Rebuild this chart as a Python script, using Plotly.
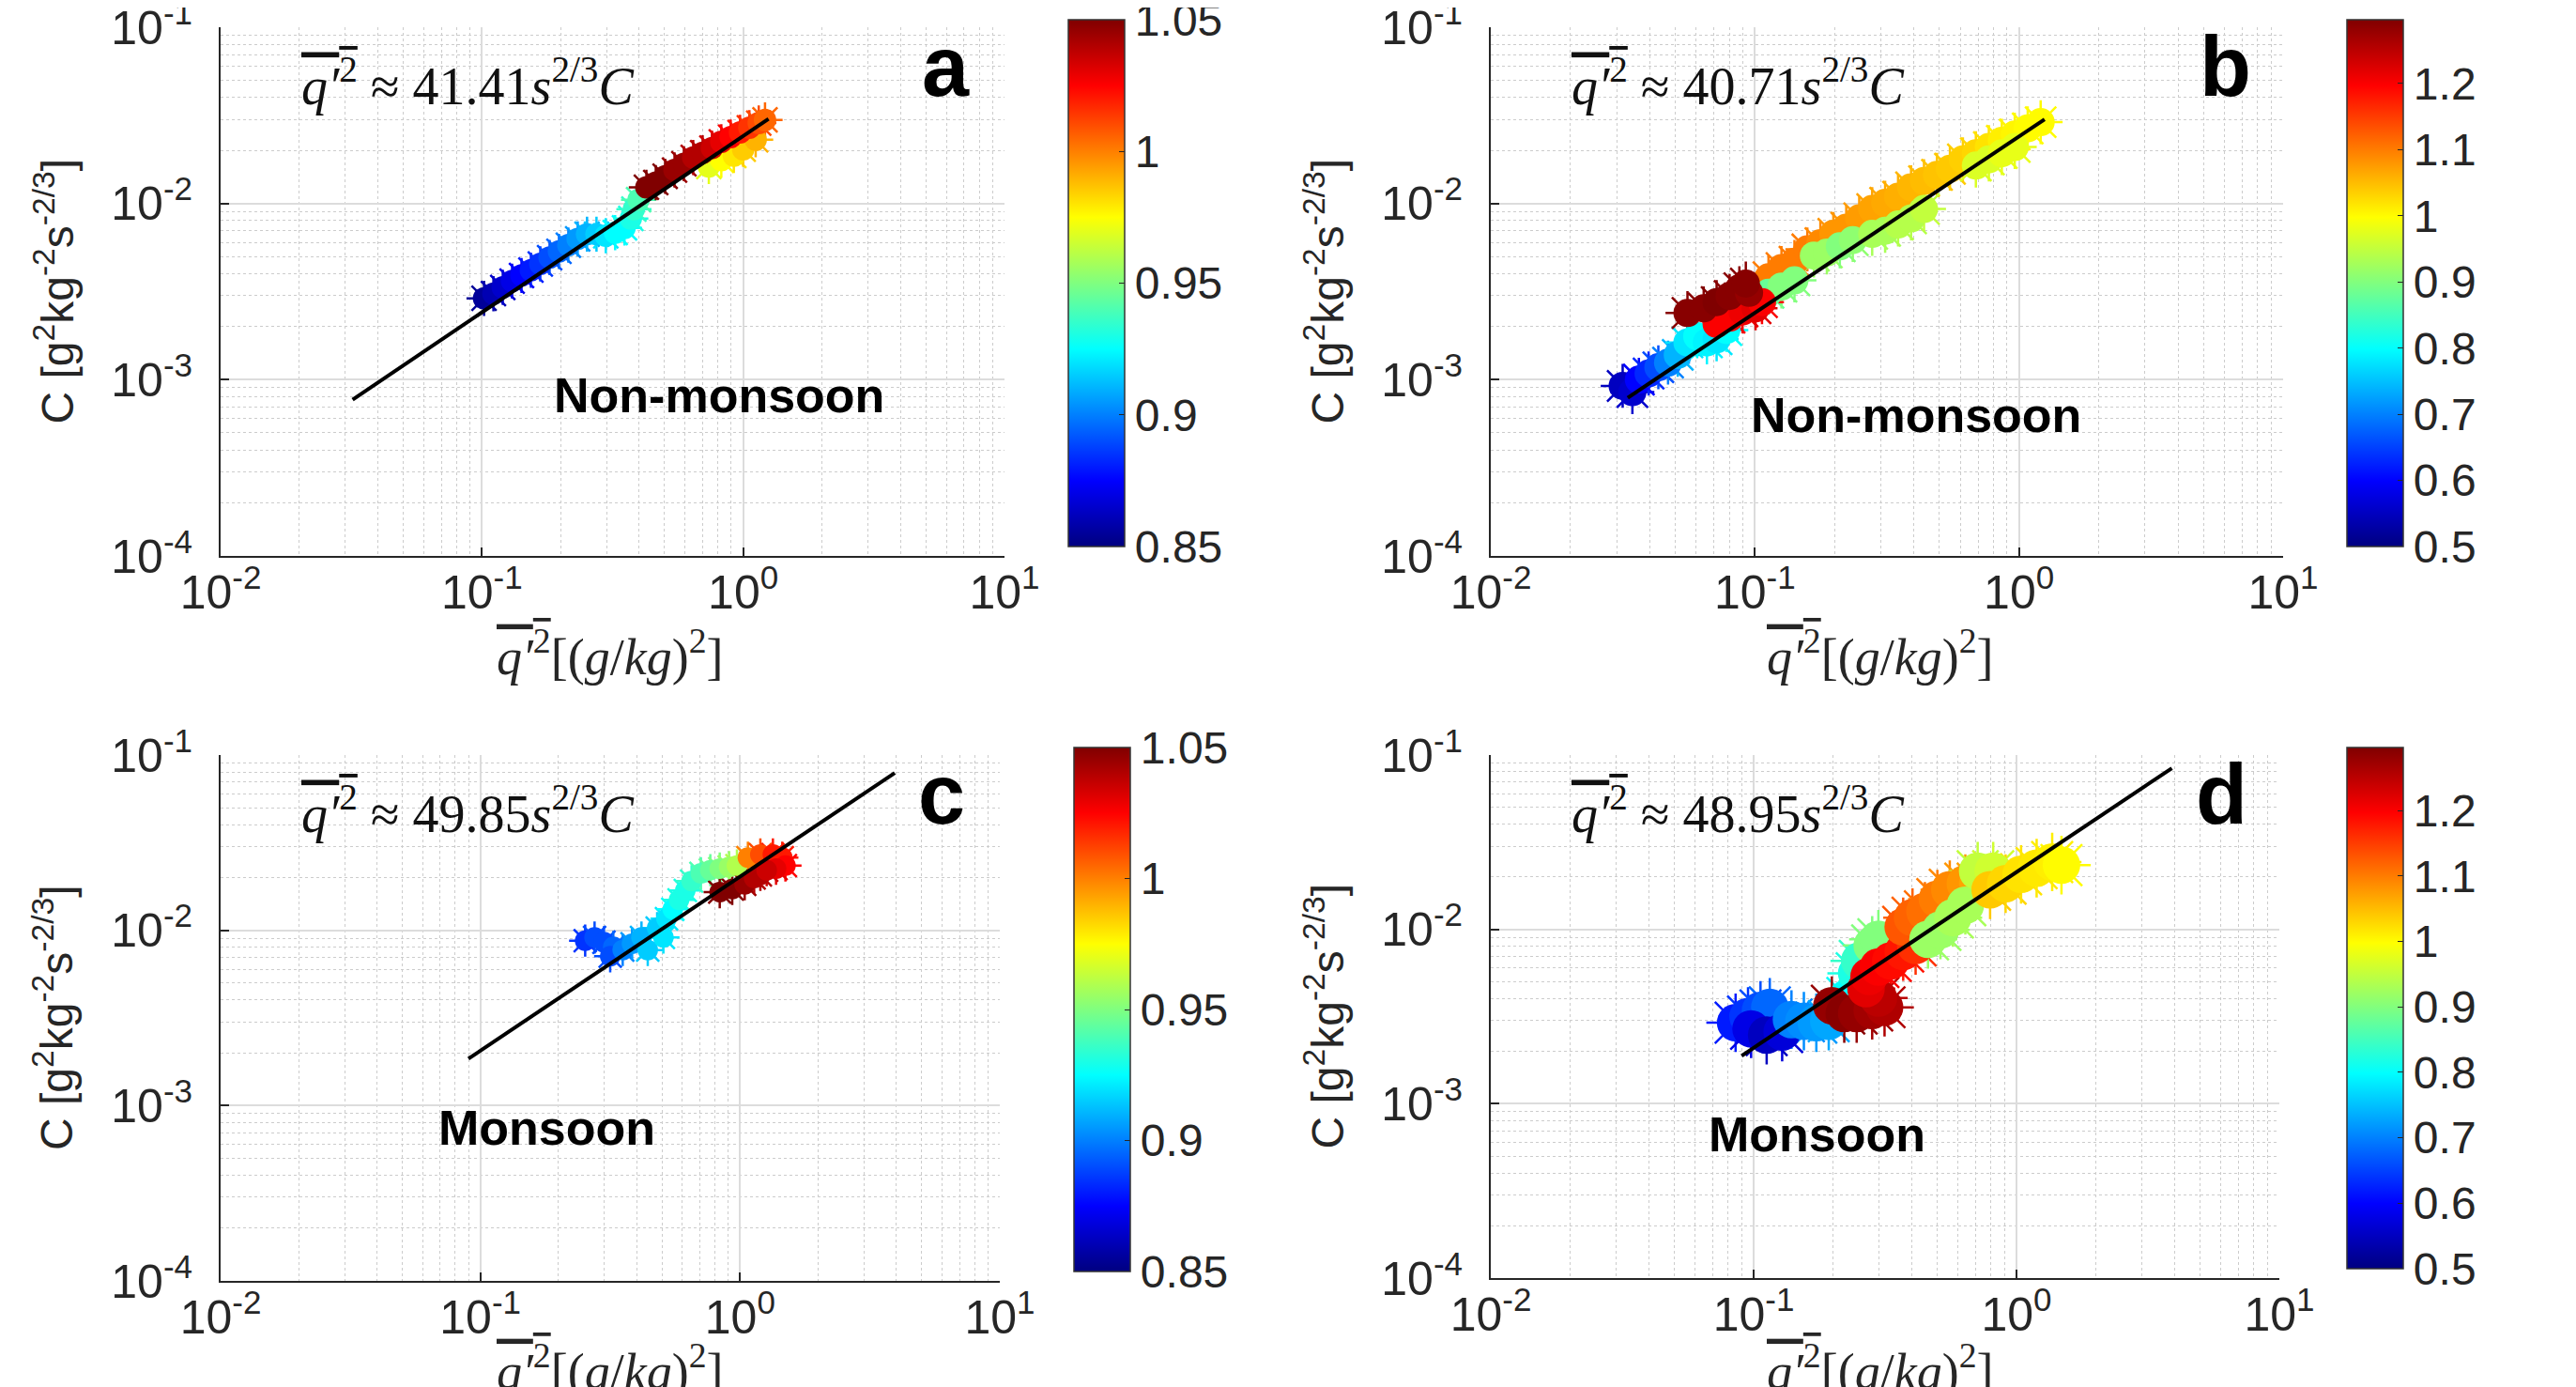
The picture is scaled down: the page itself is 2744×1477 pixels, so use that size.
import plotly.graph_objects as go

W, H = 2744, 1477

# ---------------- data ----------------
# Panel a  (Non-monsoon, colour range 0.85-1.05)
a_q = [0.1019, 0.1107, 0.1202, 0.1305, 0.1418, 0.1540, 0.1673, 0.1816, 0.1972, 0.2142,
       0.2326, 0.2526, 0.2745, 0.2980, 0.3236, 0.3514, 0.3713, 0.3817, 0.3978,
       0.7388, 0.8246, 0.9207, 0.9998, 1.116,
       0.4261, 0.4628, 0.5027, 0.5460, 0.5929, 0.6437, 0.6994, 0.7592, 0.8246, 0.8956,
       0.9727, 1.056, 1.147, 1.212]
a_C = [2.895e-3, 3.078e-3, 3.341e-3, 3.625e-3, 3.903e-3, 4.182e-3, 4.539e-3, 4.928e-3, 5.346e-3, 5.801e-3,
       6.296e-3, 6.694e-3, 6.694e-3, 6.559e-3, 6.834e-3, 7.265e-3, 8.213e-3, 9.285e-3, 1.050e-2,
       1.62e-2, 1.76e-2, 1.87e-2, 2.03e-2, 2.30e-2,
       1.236e-2, 1.314e-2, 1.426e-2, 1.548e-2, 1.680e-2, 1.823e-2, 1.939e-2, 2.061e-2, 2.236e-2, 2.378e-2,
       2.528e-2, 2.689e-2, 2.859e-2, 2.978e-2]
a_s = [0.855, 0.86, 0.865, 0.87, 0.875, 0.88, 0.885, 0.89, 0.895, 0.90,
       0.905, 0.91, 0.915, 0.92, 0.925, 0.925, 0.93, 0.935, 0.94,
       0.97, 0.975, 0.98, 0.985, 0.99,
       1.05, 1.05, 1.05, 1.045, 1.045, 1.04, 1.04, 1.035, 1.03, 1.025,
       1.02, 1.015, 1.01, 1.005]
a_line_q = [0.032, 1.25]
a_line_C = [7.7e-4, 3.02e-2]

# Panel b  (Non-monsoon, colour range 0.5-1.3)
b_q = [0.03158, 0.03437, 0.03637, 0.03959, 0.04310, 0.04691, 0.05105, 0.05556, 0.06047, 0.06582,
       0.07164, 0.07798,
       0.1126, 0.1261, 0.1412, 0.1580, 0.1770, 0.1982, 0.2218, 0.2484, 0.2781, 0.3113,
       0.3485, 0.3903, 0.4369, 0.4892, 0.5477, 0.6132, 0.6867, 0.7690, 0.8610, 0.9638,
       1.079, 1.208,
       0.1126, 0.1261, 0.1412, 0.1673, 0.1873, 0.2097, 0.2348, 0.2781, 0.3113, 0.3485,
       0.3903, 0.4369, 0.6867, 0.7690, 0.8610, 0.9638,
       0.07164, 0.08022, 0.08980, 0.1006, 0.1064,
       0.05556, 0.06400, 0.07164, 0.08022, 0.08734, 0.09504, 0.09240]
b_C = [9.22e-4, 8.50e-4, 1.000e-3, 1.084e-3, 1.176e-3, 1.250e-3, 1.383e-3, 1.627e-3, 1.764e-3, 1.627e-3,
       1.694e-3, 1.913e-3,
       3.811e-3, 4.303e-3, 4.667e-3, 5.487e-3, 5.951e-3, 6.722e-3, 7.289e-3, 8.230e-3, 9.297e-3, 1.008e-2,
       1.093e-2, 1.235e-2, 1.339e-2, 1.452e-2, 1.574e-2, 1.778e-2, 1.928e-2, 2.090e-2, 2.267e-2, 2.459e-2,
       2.667e-2, 2.892e-2,
       3.112e-3, 3.374e-3, 3.659e-3, 5.060e-3, 5.269e-3, 5.715e-3, 6.196e-3, 6.722e-3, 7.000e-3, 7.594e-3,
       8.230e-3, 9.297e-3, 1.640e-2, 1.778e-2, 1.928e-2, 2.090e-2,
       2.074e-3, 2.249e-3, 2.439e-3, 2.540e-3, 2.755e-3,
       2.390e-3, 2.540e-3, 2.755e-3, 2.987e-3, 3.306e-3, 3.112e-3, 3.513e-3]
b_s = [0.55, 0.56, 0.60, 0.63, 0.66, 0.70, 0.74, 0.78, 0.80, 0.79,
       0.78, 0.80,
       1.10, 1.10, 1.10, 1.10, 1.09, 1.08, 1.08, 1.075, 1.07, 1.065,
       1.06, 1.055, 1.05, 1.045, 1.04, 1.035, 1.03, 1.02, 1.01, 1.005,
       1.00, 1.00,
       0.88, 0.90, 0.90, 0.92, 0.92, 0.90, 0.91, 0.93, 0.93, 0.94,
       0.94, 0.95, 0.97, 0.97, 0.98, 0.98,
       1.20, 1.20, 1.21, 1.22, 1.20,
       1.29, 1.29, 1.30, 1.29, 1.29, 1.28, 1.29]
b_line_q = [0.033, 1.25]
b_line_C = [7.9e-4, 3.0e-2]

# Panel c  (Monsoon, colour range 0.85-1.05)
c_q = [0.2533, 0.2753, 0.2991, 0.3251, 0.3162, 0.3533, 0.3839, 0.4173, 0.4411, 0.4795,
       0.5068, 0.5210, 0.5508, 0.5822, 0.6154, 0.6506, 0.7069, 0.7683, 0.8350, 0.9074,
       0.9727, 1.072, 1.197, 1.338, 1.454, 1.495, 1.376,
       0.8350, 0.9330, 1.042, 1.133, 1.197, 1.266]
c_C = [8.73e-3, 9.10e-3, 8.55e-3, 8.04e-3, 7.11e-3, 7.72e-3, 8.38e-3, 9.10e-3, 7.72e-3, 1.029e-2,
       9.10e-3, 1.164e-2, 1.317e-2, 1.490e-2, 1.686e-2, 1.907e-2, 2.113e-2, 2.203e-2, 2.248e-2, 2.295e-2,
       2.342e-2, 2.596e-2, 2.705e-2, 2.705e-2, 2.596e-2, 2.342e-2, 2.248e-2,
       1.651e-2, 1.720e-2, 1.830e-2, 1.987e-2, 2.071e-2, 2.203e-2]
c_s = [0.885, 0.89, 0.89, 0.895, 0.89, 0.90, 0.905, 0.91, 0.915, 0.915,
       0.92, 0.92, 0.925, 0.93, 0.93, 0.935, 0.94, 0.945, 0.95, 0.955,
       0.96, 1.00, 1.01, 1.02, 1.02, 1.025, 1.03,
       1.05, 1.05, 1.045, 1.04, 1.04, 1.035]
c_line_q = [0.09, 3.94]
c_line_C = [1.85e-3, 7.9e-2]

# Panel d  (Monsoon, colour range 0.5-1.3)
d_q = [0.0854, 0.0952, 0.1062, 0.1152, 0.0978, 0.1121, 0.1284, 0.1393, 0.1553, 0.1732,
       0.1931, 0.2273, 0.2466, 0.2533, 0.2825, 0.2983,
       0.1984, 0.2212, 0.2466, 0.2825, 0.3148, 0.2983,
       0.2676, 0.2749, 0.2983, 0.3324, 0.3707, 0.4133,
       0.3707, 0.4022, 0.4484, 0.5000, 0.5574, 0.6388, 0.7118,
       0.4607, 0.5137, 0.5728, 0.6388, 0.7118, 0.8155,
       0.7936, 0.9091, 1.041, 1.193, 1.367, 1.483]
d_C = [2.914e-3, 3.162e-3, 3.431e-3, 3.574e-3, 2.687e-3, 2.475e-3, 2.578e-3, 3.037e-3, 2.975e-3, 2.914e-3,
       2.975e-3, 4.040e-3, 5.603e-3, 6.594e-3, 8.088e-3, 8.775e-3,
       3.648e-3, 3.294e-3, 3.294e-3, 3.431e-3, 3.574e-3, 4.040e-3,
       4.567e-3, 5.375e-3, 6.077e-3, 6.594e-3, 7.455e-3, 8.088e-3,
       1.033e-2, 1.168e-2, 1.268e-2, 1.492e-2, 1.687e-2, 1.830e-2, 1.830e-2,
       8.775e-3, 9.920e-3, 1.168e-2, 1.375e-2, 2.155e-2, 2.155e-2,
       1.687e-2, 1.830e-2, 2.068e-2, 2.245e-2, 2.435e-2, 2.338e-2]
d_s = [0.62, 0.64, 0.66, 0.68, 0.58, 0.55, 0.57, 0.70, 0.71, 0.72,
       0.73, 0.80, 0.82, 0.84, 0.90, 0.90,
       1.28, 1.29, 1.28, 1.27, 1.26, 1.25,
       1.22, 1.21, 1.20, 1.19, 1.18, 1.16,
       1.13, 1.12, 1.11, 1.10, 1.09, 1.08, 1.07,
       0.92, 0.92, 0.93, 0.93, 0.95, 0.96,
       1.04, 1.03, 1.02, 1.015, 1.01, 1.00]
d_line_q = [0.09, 3.9]
d_line_C = [1.88e-3, 8.4e-2]

x_ticks = [0.01, 0.1, 1, 10]
x_ticktext = ["10<sup>-2</sup>", "10<sup>-1</sup>", "10<sup>0</sup>", "10<sup>1</sup>"]
y_ticks = [1e-4, 1e-3, 1e-2, 1e-1]
y_ticktext = ["10<sup>-4</sup>", "10<sup>-3</sup>", "10<sup>-2</sup>", "10<sup>-1</sup>"]
cbar_ab_ticks = [0.85, 0.9, 0.95, 1, 1.05]
cbar_ab_text = ["0.85", "0.9", "0.95", "1", "1.05"]
cbar_bd_ticks = [0.5, 0.6, 0.7, 0.8, 0.9, 1.0, 1.1, 1.2]
cbar_bd_text = ["0.5", "0.6", "0.7", "0.8", "0.9", "1", "1.1", "1.2"]

coeffs = ["41.41", "40.71", "49.85", "48.95"]
seasons = ["Non-monsoon", "Non-monsoon", "Monsoon", "Monsoon"]
letters = ["a", "b", "c", "d"]

# ---------------- styling ----------------
JET = [[0.0, "#000080"], [0.125, "#0000ff"], [0.375, "#00ffff"],
       [0.625, "#ffff00"], [0.875, "#ff0000"], [1.0, "#800000"]]
SANS = "Liberation Sans, Arial, sans-serif"
SERIF = "Liberation Serif, Times New Roman, serif"
TXT = "#262626"
TICKSZ = 50
CBSZ = 48


def px_x(p):
    return p / W


def px_y(p):
    return 1 - p / H


panels = [
    dict(q=a_q, C=a_C, s=a_s, lq=a_line_q, lC=a_line_C, size=24,
         dom_x=(227, 1062), dom_y=(21, 584), cb_x=1130, cmin=0.85, cmax=1.05,
         cbt=cbar_ab_ticks, cbtt=cbar_ab_text),
    dict(q=b_q, C=b_C, s=b_s, lq=b_line_q, lC=b_line_C, size=30,
         dom_x=(1580, 2424), dom_y=(21, 584), cb_x=2492, cmin=0.5, cmax=1.2965,
         cbt=cbar_bd_ticks, cbtt=cbar_bd_text),
    dict(q=c_q, C=c_C, s=c_s, lq=c_line_q, lC=c_line_C, size=22,
         dom_x=(227, 1057), dom_y=(796, 1356), cb_x=1136, cmin=0.85, cmax=1.05,
         cbt=cbar_ab_ticks, cbtt=cbar_ab_text),
    dict(q=d_q, C=d_C, s=d_s, lq=d_line_q, lC=d_line_C, size=40,
         dom_x=(1580, 2420), dom_y=(796, 1353), cb_x=2492, cmin=0.5, cmax=1.2965,
         cbt=cbar_bd_ticks, cbtt=cbar_bd_text),
]

fig = go.Figure()
layout = dict(width=W, height=H,
              margin=dict(l=0, r=0, t=0, b=0, autoexpand=False),
              paper_bgcolor="white", plot_bgcolor="white", showlegend=False)
annotations = []

for i, p in enumerate(panels):
    n = "" if i == 0 else str(i + 1)
    ca = "coloraxis" + n
    # spiky fringe (asterisk markers) underneath the filled core
    fig.add_trace(go.Scatter(
        x=p["q"], y=p["C"], mode="markers", xaxis="x" + n, yaxis="y" + n,
        marker=dict(color=p["s"], coloraxis=ca, size=p["size"] * 1.3,
                    symbol="asterisk-open", line=dict(width=2.5))))
    fig.add_trace(go.Scatter(
        x=p["q"], y=p["C"], mode="markers", xaxis="x" + n, yaxis="y" + n,
        marker=dict(color=p["s"], coloraxis=ca, size=p["size"], symbol="circle",
                    line=dict(width=0))))
    fig.add_trace(go.Scatter(
        x=p["lq"], y=p["lC"], mode="lines", xaxis="x" + n, yaxis="y" + n,
        line=dict(color="black", width=4)))

    x0, x1 = p["dom_x"]
    y0, y1 = p["dom_y"]
    common = dict(type="log", showline=True, linecolor="#262626", linewidth=2,
                  ticks="inside", ticklen=9, tickwidth=1.5, tickcolor="#262626",
                  showgrid=True, gridcolor="#dcdcdc", gridwidth=1.5,
                  tickfont=dict(family=SANS, size=TICKSZ, color=TXT),
                  ticklabeloverflow="allow",
                  zeroline=False, mirror=False)
    minor = dict(tickmode="array", showgrid=True, gridcolor="#cccccc",
                 griddash="dot", gridwidth=1.3, ticks="")
    layout["xaxis" + n] = dict(common, domain=[px_x(x0), px_x(x1)],
                               range=[-2, 1], tickvals=x_ticks, ticktext=x_ticktext,
                               ticklabelstandoff=-6, anchor="y" + n,
                               minor=dict(minor, tickvals=[m * 10 ** k for k in range(-2, 1) for m in range(2, 10)]))
    layout["yaxis" + n] = dict(common, domain=[px_y(y1), px_y(y0)],
                               range=[-4, -1], tickvals=y_ticks, ticktext=y_ticktext,
                               ticklabelstandoff=18, anchor="x" + n,
                               minor=dict(minor, tickvals=[m * 10 ** k for k in range(-4, -1) for m in range(2, 10)]))
    layout[ca] = dict(
        colorscale=JET, cmin=p["cmin"], cmax=p["cmax"],
        colorbar=dict(x=px_x(p["cb_x"]), xanchor="left", xref="paper",
                      y=px_y((y0 + y1) / 2 - 9), yanchor="middle", xpad=0, ypad=0,
                      len=(y1 - y0 - 2), lenmode="pixels", thickness=60, thicknessmode="pixels",
                      outlinewidth=1.5, outlinecolor="#333333",
                      tickvals=p["cbt"], ticktext=p["cbtt"], ticks="inside", ticklen=6,
                      tickcolor="#262626", ticklabeloverflow="allow",
                      tickfont=dict(family=SANS, size=CBSZ, color=TXT)))

    # formula
    annotations.append(dict(
        x=px_x(x0 + 84), y=px_y(y0 + 58), xref="paper", yref="paper",
        xanchor="left", yanchor="middle", showarrow=False,
        text='<span style="text-decoration:overline"><i>q′</i><sup>2</sup></span> ≈ '
             + coeffs[i] + '<i>s</i><sup>2/3</sup><i>C</i>',
        font=dict(family=SERIF, size=56, color="#111111")))
    # panel letter
    annotations.append(dict(
        x=px_x(x1 - 62), y=px_y(y0 + 42), xref="paper", yref="paper",
        xanchor="center", yanchor="middle", showarrow=False,
        text="<b>" + letters[i] + "</b>",
        font=dict(family=SANS, size=90, color="black")))
    # y title
    annotations.append(dict(
        x=px_x(x0 - 178), y=px_y((y0 + y1) / 2), xref="paper", yref="paper",
        xanchor="center", yanchor="middle", showarrow=False, textangle=-90,
        text="C [g<sup>2</sup>kg<sup>-2</sup>s<sup>-2/3</sup>]",
        font=dict(family=SANS, size=48, color=TXT)))
    # x title
    annotations.append(dict(
        x=px_x(x0 + 415), y=px_y(min(y1 + 104, 1448)), xref="paper", yref="paper",
        xanchor="center", yanchor="middle", showarrow=False,
        text='<span style="text-decoration:overline"><i>q′</i><sup>2</sup></span>[(<i>g</i>/<i>kg</i>)<sup>2</sup>]',
        font=dict(family=SERIF, size=54, color=TXT)))

season_pos = [(758, 413), (2033, 434), (574, 1193), (1927, 1200)]
for i, (sx, sy) in enumerate(season_pos):
    annotations.append(dict(
        x=px_x(sx), y=px_y(sy), xref="paper", yref="paper",
        xanchor="center", yanchor="middle", showarrow=False,
        text="<b>" + seasons[i] + "</b>",
        font=dict(family=SANS, size=52, color="black")))

layout["annotations"] = annotations
fig.update_layout(**layout)
fig.write_html("out.html")
